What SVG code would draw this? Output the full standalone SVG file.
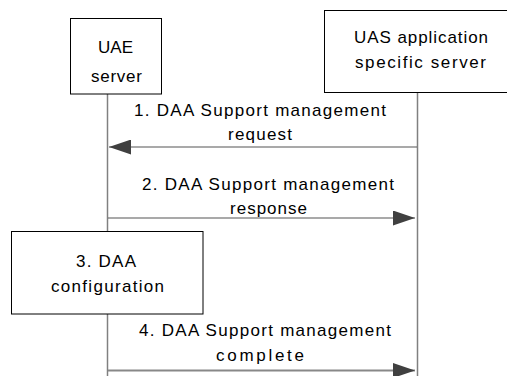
<svg xmlns="http://www.w3.org/2000/svg" width="507" height="376" viewBox="0 0 507 376">
<style>
.box{fill:#fff;stroke:#000;stroke-width:1}
.life{stroke:#808080;stroke-width:1.5;fill:none}
.msg{stroke:#555;stroke-width:1.2;fill:none}
text{font-family:"Liberation Sans",Arial,sans-serif;font-size:17px;fill:#000}
</style>
<defs>
<marker id="ah" markerWidth="22" markerHeight="15" refX="22" refY="7.5" orient="auto" markerUnits="userSpaceOnUse">
<path d="M0,0 L22,7.5 L0,15 Z" fill="#404040"/>
</marker>
</defs>
<g id="connectors">
<line class="life" x1="107.5" y1="94" x2="107.5" y2="231.5"/>
<line class="life" x1="107.5" y1="314" x2="107.5" y2="376"/>
<line class="life" x1="417.5" y1="92" x2="417.5" y2="376"/>
<line class="msg" x1="417" y1="147" x2="109" y2="147" marker-end="url(#ah)"/>
<line class="msg" x1="108" y1="218" x2="415" y2="218" marker-end="url(#ah)"/>
<line class="msg" x1="108" y1="370.5" x2="415" y2="370.5" marker-end="url(#ah)" style="stroke:#888;stroke-width:2"/>
<text x="134" y="115.5" textLength="252" lengthAdjust="spacing">1. DAA Support management</text>
<text x="228" y="139.5" textLength="64" lengthAdjust="spacing">request</text>
<text x="142" y="190" textLength="252" lengthAdjust="spacing">2. DAA Support management</text>
<text x="230" y="214" textLength="77" lengthAdjust="spacing">response</text>
<text x="139" y="336" textLength="252" lengthAdjust="spacing">4. DAA Support management</text>
<text x="216" y="361" textLength="88" lengthAdjust="spacing">complete</text>
</g>
<g id="uae">
<rect class="box" x="70.5" y="18.5" width="91" height="75.5"/>
<text x="98" y="53" textLength="35" lengthAdjust="spacing">UAE</text>
<text x="91" y="82" textLength="51" lengthAdjust="spacing">server</text>
</g>
<g id="uas">
<rect class="box" x="324.5" y="10.5" width="200" height="82"/>
<text x="354" y="43" textLength="134" lengthAdjust="spacing">UAS application</text>
<text x="355" y="68" textLength="131" lengthAdjust="spacing">specific server</text>
</g>
<g id="config">
<rect class="box" x="11.5" y="231.5" width="191.5" height="82.5"/>
<text x="76" y="267" textLength="60" lengthAdjust="spacing">3. DAA</text>
<text x="51" y="292" textLength="113" lengthAdjust="spacing">configuration</text>
</g>
</svg>
